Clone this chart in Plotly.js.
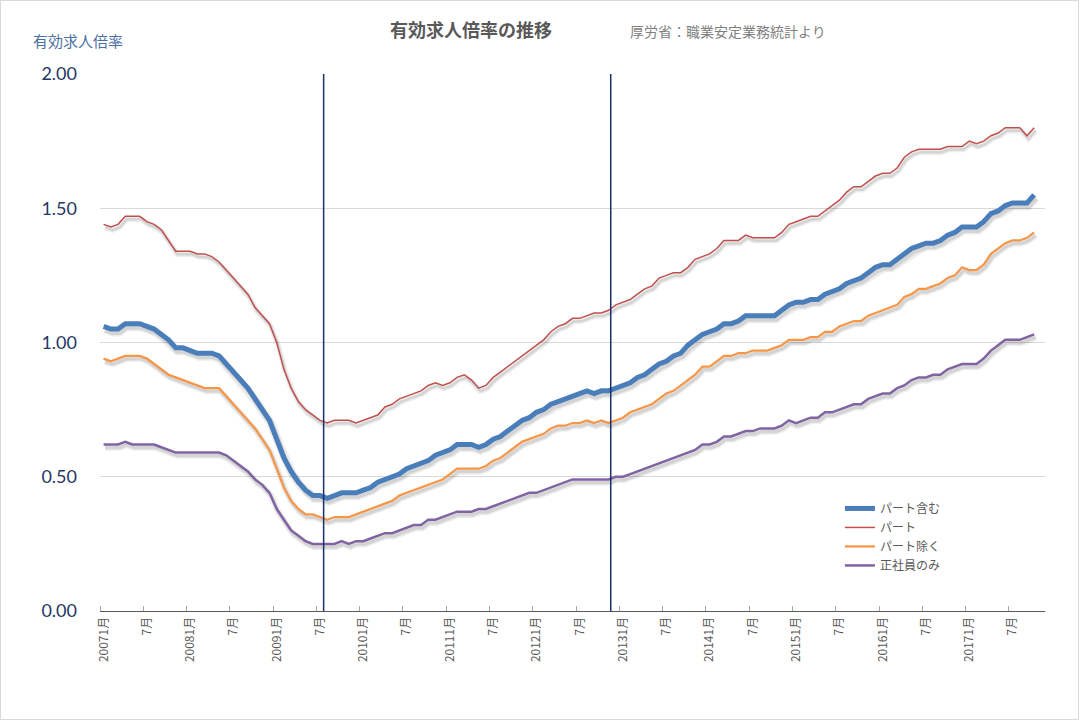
<!DOCTYPE html>
<html>
<head>
<meta charset="utf-8">
<script src="https://cdn.plot.ly/plotly-3.0.1.min.js"></script>
<style>
  html, body { margin: 0; padding: 0; background: #ffffff; }
  #wrap { position: relative; width: 1079px; height: 720px; }
  #chart { width: 1079px; height: 720px; }
  #frame { position: absolute; left: 0; top: 0; width: 1077px; height: 718px; border: 1px solid #d9d9d9; pointer-events: none; }
</style>
</head>
<body>
<div id="wrap"><div id="chart"></div><div id="frame"></div></div>
<script>
// ---- categories: monthly, 2007/1 .. 2017/10 ----
const months = [];
for (let y = 2007; y <= 2017; y++) {
  for (let m = 1; m <= 12; m++) {
    if (y === 2017 && m > 10) break;
    months.push(y + "/" + m);
  }
}

// ---- tick labels (every 6 months) ----
const tickMonths = ["2007/1","2007/7","2008/1","2008/7","2009/1","2009/7","2010/1","2010/7",
  "2011/1","2011/7","2012/1","2012/7","2013/1","2013/7","2014/1","2014/7",
  "2015/1","2015/7","2016/1","2016/7","2017/1","2017/7"];
const tickLabels = ["20071月","7月","20081月","7月","20091月","7月","20101月","7月",
  "20111月","7月","20121月","7月","20131月","7月","20141月","7月",
  "20151月","7月","20161月","7月","20171月","7月"];

// ---- series ----
const partIncl = [ // パート含む
  1.06,1.05,1.05,1.07,1.07,1.07,1.06,1.05,1.03,1.01,0.98,0.98,
  0.97,0.96,0.96,0.96,0.95,0.92,0.89,0.86,0.83,0.79,0.75,0.71,
  0.64,0.57,0.52,0.48,0.45,0.43,0.43,0.42,0.43,0.44,0.44,0.44,
  0.45,0.46,0.48,0.49,0.50,0.51,0.53,0.54,0.55,0.56,0.58,0.59,
  0.60,0.62,0.62,0.62,0.61,0.62,0.64,0.65,0.67,0.69,0.71,0.72,
  0.74,0.75,0.77,0.78,0.79,0.80,0.81,0.82,0.81,0.82,0.82,0.83,
  0.84,0.85,0.87,0.88,0.90,0.92,0.93,0.95,0.96,0.99,1.01,1.03,
  1.04,1.05,1.07,1.07,1.08,1.10,1.10,1.10,1.10,1.10,1.12,1.14,
  1.15,1.15,1.16,1.16,1.18,1.19,1.20,1.22,1.23,1.24,1.26,1.28,
  1.29,1.29,1.31,1.33,1.35,1.36,1.37,1.37,1.38,1.40,1.41,1.43,
  1.43,1.43,1.45,1.48,1.49,1.51,1.52,1.52,1.52,1.55
];
const partOnly = [ // パート
  1.44,1.43,1.44,1.47,1.47,1.47,1.45,1.44,1.42,1.38,1.34,1.34,
  1.34,1.33,1.33,1.32,1.30,1.27,1.24,1.21,1.18,1.13,1.10,1.07,
  1.00,0.90,0.83,0.78,0.75,0.73,0.71,0.70,0.71,0.71,0.71,0.70,
  0.71,0.72,0.73,0.76,0.77,0.79,0.80,0.81,0.82,0.84,0.85,0.84,
  0.85,0.87,0.88,0.86,0.83,0.84,0.87,0.89,0.91,0.93,0.95,0.97,
  0.99,1.01,1.04,1.06,1.07,1.09,1.09,1.10,1.11,1.11,1.12,1.14,
  1.15,1.16,1.18,1.20,1.21,1.24,1.25,1.26,1.26,1.28,1.31,1.32,
  1.33,1.35,1.38,1.38,1.38,1.40,1.39,1.39,1.39,1.39,1.41,1.44,
  1.45,1.46,1.47,1.47,1.49,1.51,1.53,1.56,1.58,1.58,1.60,1.62,
  1.63,1.63,1.65,1.69,1.71,1.72,1.72,1.72,1.72,1.73,1.73,1.73,
  1.75,1.74,1.75,1.77,1.78,1.80,1.80,1.80,1.77,1.80
];
const partExcl = [ // パート除く
  0.94,0.93,0.94,0.95,0.95,0.95,0.94,0.92,0.90,0.88,0.87,0.86,
  0.85,0.84,0.83,0.83,0.83,0.80,0.77,0.74,0.71,0.68,0.64,0.60,
  0.53,0.46,0.41,0.38,0.36,0.36,0.35,0.34,0.35,0.35,0.35,0.36,
  0.37,0.38,0.39,0.40,0.41,0.43,0.44,0.45,0.46,0.47,0.48,0.49,
  0.51,0.53,0.53,0.53,0.53,0.54,0.56,0.57,0.59,0.61,0.63,0.64,
  0.65,0.66,0.68,0.69,0.69,0.70,0.70,0.71,0.70,0.71,0.70,0.71,
  0.72,0.74,0.75,0.76,0.77,0.79,0.81,0.82,0.84,0.86,0.88,0.91,
  0.91,0.93,0.95,0.95,0.96,0.96,0.97,0.97,0.97,0.98,0.99,1.01,
  1.01,1.01,1.02,1.02,1.04,1.04,1.06,1.07,1.08,1.08,1.10,1.11,
  1.12,1.13,1.14,1.17,1.18,1.20,1.20,1.21,1.22,1.24,1.25,1.28,
  1.27,1.27,1.29,1.33,1.35,1.37,1.38,1.38,1.39,1.41
];
const regularOnly = [ // 正社員のみ
  0.62,0.62,0.62,0.63,0.62,0.62,0.62,0.62,0.61,0.60,0.59,0.59,
  0.59,0.59,0.59,0.59,0.59,0.58,0.56,0.54,0.52,0.49,0.47,0.44,
  0.38,0.34,0.30,0.28,0.26,0.25,0.25,0.25,0.25,0.26,0.25,0.26,
  0.26,0.27,0.28,0.29,0.29,0.30,0.31,0.32,0.32,0.34,0.34,0.35,
  0.36,0.37,0.37,0.37,0.38,0.38,0.39,0.40,0.41,0.42,0.43,0.44,
  0.44,0.45,0.46,0.47,0.48,0.49,0.49,0.49,0.49,0.49,0.49,0.50,
  0.50,0.51,0.52,0.53,0.54,0.55,0.56,0.57,0.58,0.59,0.60,0.62,
  0.62,0.63,0.65,0.65,0.66,0.67,0.67,0.68,0.68,0.68,0.69,0.71,
  0.70,0.71,0.72,0.72,0.74,0.74,0.75,0.76,0.77,0.77,0.79,0.80,
  0.81,0.81,0.83,0.84,0.86,0.87,0.87,0.88,0.88,0.90,0.91,0.92,
  0.92,0.92,0.94,0.97,0.99,1.01,1.01,1.01,1.02,1.03
];

const seriesNames = ["パート含む", "パート", "パート除く", "正社員のみ"];

// government change markers (month boundaries)
const markerMonths = ["2009/8", "2012/12"];

const xIdx = months.map((m, i) => i);
const jpFont = "'Noto Sans CJK JP', 'Noto Sans', sans-serif";

const seriesList = [
  { name: seriesNames[0], y: partIncl, color: "#4a7ebb", width: 5 },
  { name: seriesNames[1], y: partOnly, color: "#c0504d", width: 1.5 },
  { name: seriesNames[2], y: partExcl, color: "#f79646", width: 2.25 },
  { name: seriesNames[3], y: regularOnly, color: "#8064a2", width: 2.5 }
];

const data = [];
// soft drop shadows (drawn on an offset, hidden overlay axis pair)
seriesList.forEach(s => {
  data.push({ type: "scatter", mode: "lines", x: xIdx, y: s.y, xaxis: "x2", yaxis: "y2",
    showlegend: false, hoverinfo: "skip",
    line: { color: "rgba(0,0,0,0.07)", width: s.width + 4 } });
  data.push({ type: "scatter", mode: "lines", x: xIdx, y: s.y, xaxis: "x2", yaxis: "y2",
    showlegend: false, hoverinfo: "skip",
    line: { color: "rgba(0,0,0,0.10)", width: s.width + 1 } });
});
// main lines
seriesList.forEach(s => {
  data.push({ type: "scatter", mode: "lines", name: s.name, x: xIdx, y: s.y,
    xaxis: "x3", yaxis: "y3", hoverinfo: "skip",
    line: { color: s.color, width: s.width } });
});

const xRange = [-0.5, 130.5];
const yRange = [0, 2];
const pxX = (xRange[1] - xRange[0]) / 945;
const pxY = (yRange[1] - yRange[0]) / 537;
const shX = 1.5, shY = 3; // shadow offset in px

const shapes = markerMonths.map((m, i) => {
  const xv = months.indexOf(m) - (i === 0 ? 0.5 : 0.7);
  return { type: "line", xref: "x", yref: "paper", x0: xv, x1: xv, y0: 0, y1: 1,
           line: { color: "#1a2f6b", width: 1.5 }, layer: "above" };
});

const hiddenAxis = { showgrid: false, zeroline: false, showline: false, showticklabels: false, ticks: "", fixedrange: true };

const layout = {
  width: 1079, height: 720,
  margin: { l: 100, r: 34, t: 74, b: 109 },
  paper_bgcolor: "#ffffff", plot_bgcolor: "#ffffff",
  font: { family: jpFont, color: "#595959" },
  showlegend: true,
  title: { text: "<b>有効求人倍率の推移</b>", x: 471 / 1079, xanchor: "center",
           y: 1 - 31 / 720, yanchor: "middle", font: { size: 18, color: "#595959", family: jpFont } },
  xaxis: {
    type: "linear", range: xRange, fixedrange: true,
    tickmode: "array", tickvals: tickMonths.map(m => months.indexOf(m)), ticktext: tickLabels,
    tickangle: -90, ticks: "", tickfont: { size: 12, color: "#595959", family: jpFont },
    showgrid: false, zeroline: false, showline: true, linecolor: "#595959", linewidth: 1,
    minor: { tickmode: "linear", tick0: -0.5, dtick: 6, ticks: "inside", ticklen: 5,
             tickcolor: "#a6a6a6", tickwidth: 1, showgrid: false }
  },
  yaxis: {
    range: yRange, dtick: 0.5, tickformat: ".2f", fixedrange: true,
    showgrid: true, gridcolor: "#d9d9d9", gridwidth: 1, zeroline: false, showline: false,
    ticks: "", ticklabelstandoff: 22,
    tickfont: { size: 18, color: "#1f3864", family: "Lato, 'Open Sans', sans-serif" }
  },
  xaxis2: Object.assign({ overlaying: "x", range: [xRange[0] - shX * pxX, xRange[1] - shX * pxX] }, hiddenAxis),
  yaxis2: Object.assign({ overlaying: "y", range: [yRange[0] + shY * pxY, yRange[1] + shY * pxY] }, hiddenAxis),
  xaxis3: Object.assign({ overlaying: "x", range: xRange }, hiddenAxis),
  yaxis3: Object.assign({ overlaying: "y", range: yRange }, hiddenAxis),
  legend: { x: 0.783, y: 0.218, xanchor: "left", yanchor: "top", bgcolor: "rgba(0,0,0,0)",
            font: { size: 12, color: "#595959", family: jpFont }, itemwidth: 30, tracegroupgap: 0 },
  shapes: shapes,
  annotations: [
    { text: "厚労省：職業安定業務統計より", xref: "paper", yref: "paper",
      x: (628 - 100) / 945, y: (611 - 31) / 537, xanchor: "left", yanchor: "middle",
      showarrow: false, font: { size: 14, color: "#7f7f7f", family: jpFont } },
    { text: "有効求人倍率", xref: "paper", yref: "paper",
      x: (31 - 100) / 945, y: (611 - 41) / 537, xanchor: "left", yanchor: "middle",
      showarrow: false, font: { size: 15, color: "#4a6fa0", family: jpFont } }
  ]
};

Plotly.newPlot("chart", data, layout, { displayModeBar: false, staticPlot: true });
</script>
</body>
</html>
